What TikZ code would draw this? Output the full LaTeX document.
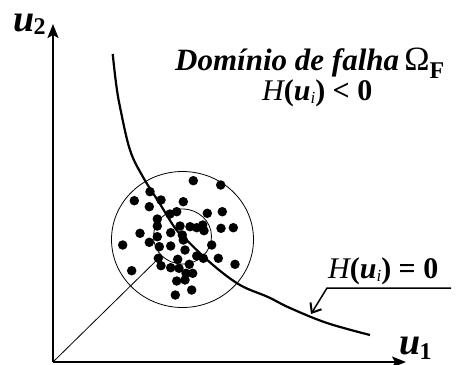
\documentclass[tikz,border=0pt]{standalone}
\usepackage{fontspec}
\setmainfont{Liberation Serif}
\usetikzlibrary{arrows.meta}
\begin{document}
\begin{tikzpicture}[x=1pt,y=-1pt,
  axis/.style={line width=2pt,-{Stealth[length=14pt,width=11pt,inset=3pt]}},
  thinline/.style={line width=0.8pt},
  dot/.style={circle,fill=black,inner sep=0pt,minimum size=9.5pt},
  lbl/.style={inner sep=0pt,anchor=base west},
  big/.style={font=\fontsize{38}{40}\selectfont\bfseries\itshape},
  sub/.style={font=\fontsize{24}{26}\selectfont\bfseries}]
\useasboundingbox (0,0) rectangle (457,364);
% axes
\coordinate (O) at (53,362);
\coordinate (Y) at (53,24);
\coordinate (X) at (406,362);
\draw[axis] (O) -- (Y);
\draw[axis] (O) -- (X);
\node[lbl,big] (u2) at (13,31) {u};
\node[lbl,sub] (u2s) at (u2.base east) [anchor=base west,xshift=-1pt,yshift=-3pt] {2};
\node[lbl,big] (u1) at (399,354) {u};
\node[lbl,sub] (u1s) at (u1.base east) [anchor=base west,xshift=-1pt,yshift=-5pt] {1};
% circles
\coordinate (C1) at (182.5,239.5);
\coordinate (C2) at (182.5,236.5);
\draw[thinline] (C1) ellipse [x radius=71pt, y radius=68pt];
\draw[thinline] (C2) ellipse [x radius=29pt, y radius=27.5pt];
\coordinate (E) at (161,256);
\draw[thinline] (O) -- (E);
% dots
\foreach \x/\y [count=\i] in {
 193.3/180.7, 220.7/185, 150/191.7, 134.3/200.7, 161/200, 149.3/206.7,
 183.3/201.7, 170/214, 176.7/211.7, 207.3/213.3, 222.3/211.7, 157.3/219,
 157.3/226, 180/226, 190/226.7, 196.7/227.7, 202.7/225, 204/230.7,
 221/228.3, 233.3/227.7, 140/233.3, 170.7/232.7, 182.3/235, 157.3/236.7,
 122.7/245, 149.3/242.3, 183.3/240, 159.3/246.7, 170.7/246, 185/250,
 211.7/245, 196.7/256, 203.3/258.3, 158.3/258.3, 177.7/259.3, 218.3/258.3,
 161/265.7, 170.7/267.7, 179/268.3, 189.3/264.3, 235/264.3, 131.7/270.7,
 186/273.3, 192.7/273.3, 176.7/281, 185/280, 191.7/290, 175.3/295}
 \node[dot] (d\i) at (\x,\y) {};
% limit state curve
\draw[line width=2.2pt] plot[smooth,tension=0.6] coordinates {(112.7,54) (116,83) (120,107) (130,150) (143,177) (160,204) (175,228) (186.5,240) (213,265) (240,285) (268,297) (290,308) (327,323) (370,335)};
% pointer
\coordinate (P1) at (451,288);
\coordinate (P2) at (327,288);
\coordinate (P3) at (311,314);
\draw[line width=1.5pt,-{Straight Barb[length=8pt,width=13pt,line width=2pt]}] (P1) -- (P2) -- (P3);
% texts
\node[lbl] (dom) at (175,70) {\fontsize{31}{33}\selectfont\bfseries\itshape Domínio de falha\,\mdseries\upshape\fontsize{34}{36}\selectfont Ω\raisebox{-8pt}{\fontsize{24}{26}\selectfont\bfseries F}};
\node[lbl] (hlt) at (262,100) {\fontsize{30}{32}\selectfont\itshape H\bfseries\upshape(\itshape u\raisebox{-3pt}{\mdseries\fontsize{17}{18}\selectfont i}\upshape) < 0};
\node[lbl] (heq) at (328,278) {\fontsize{30}{32}\selectfont\itshape H\bfseries\upshape(\itshape u\raisebox{-3pt}{\mdseries\fontsize{17}{18}\selectfont i}\upshape) = 0};
\end{tikzpicture}
\end{document}
